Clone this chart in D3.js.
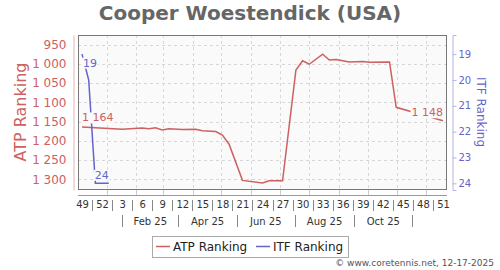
<!DOCTYPE html>
<html><head><meta charset="utf-8">
<script src="https://cdn.jsdelivr.net/npm/d3@7"></script>
<style>
html,body{margin:0;padding:0;background:#fff;}
svg{display:block;font-family:"DejaVu Sans",sans-serif;}
</style></head>
<body><svg id="c" width="500" height="270"></svg>
<script>
// ---- data ----
const weekLabels = ["49","52","3","6","9","12","15","18","21","24","27","30","33","36","39","42","45","48","51"];
const weekLabelIdx = [0,3,6,9,12,15,18,21,24,27,30,33,36,39,42,45,48,51,54];
const monthLabels = ["Feb 25","Apr 25","Jun 25","Aug 25","Oct 25"];
const atpWeeks = [0,2,4,6,9,10,11,12,13,15,17,18,20,21,22,24,27,28,30,32,33,34,36,37,38,40,42,43,46,47,54];
const atpValues = [1164,1166,1168,1170,1167,1169,1166,1172,1169,1171,1170,1174,1176,1185,1209,1303,1310,1304,1304,1016,992,1001,975,990,989,995,994,996,995,1113,1148];
const itfWeeks = [0,1,2,3,4];
const itfValues = [19,20,24,24,24];
const atpTicks = [950,1000,1050,1100,1150,1200,1250,1300];
const itfTicks = [19,20,21,22,23,24];

// ---- layout ----
const L=78, R=447, T=35, B=190;
const atpColor="#cd6060", itfColor="#6464cc";
const svg=d3.select("#c");
const day=86400000, d0=new Date(2024,11,6);
const idxOf = d => (d - d0)/(7*day);

const x=d3.scaleLinear().domain([-0.6,54.6]).range([L,R]);
const yL=d3.scaleLinear().domain([925,1328]).range([T,B]);
const yR=d3.scaleLinear().domain([18.26,24.26]).range([T,B]);
const fmt=d3.formatLocale({decimal:".",thousands:" ",grouping:[3],currency:["",""]}).format(",d");

// title
svg.append("text").attr("x",250).attr("y",20).attr("text-anchor","middle")
  .attr("font-size",20).attr("font-weight","bold").attr("fill","#666").text("Cooper Woestendick (USA)");

// plot bg
svg.append("rect").attr("x",L).attr("y",T).attr("width",R-L).attr("height",B-T).attr("fill","#fafafa");

// grid
const monthStarts=d3.range(0,12).map(m=>new Date(2025,m,1));
svg.append("g").selectAll("line").data(atpTicks).join("line")
  .attr("x1",L).attr("x2",R).attr("y1",d=>Math.round(yL(d))+0.5).attr("y2",d=>Math.round(yL(d))+0.5)
  .attr("stroke","#d8d8d8").attr("stroke-dasharray","3,3");
svg.append("g").selectAll("line").data(monthStarts).join("line")
  .attr("x1",d=>Math.round(x(idxOf(d)))+0.5).attr("x2",d=>Math.round(x(idxOf(d)))+0.5).attr("y1",T).attr("y2",B)
  .attr("stroke","#d8d8d8").attr("stroke-dasharray","3,3");
svg.append("g").selectAll("line").data(monthStarts).join("line")
  .attr("x1",d=>Math.round(x(idxOf(d)))+0.5).attr("x2",d=>Math.round(x(idxOf(d)))+0.5).attr("y1",B).attr("y2",195.5)
  .attr("stroke","#ccc");

// frame
svg.append("rect").attr("x",L+0.5).attr("y",T+0.5).attr("width",R-L-1).attr("height",B-T-1)
  .attr("fill","none").attr("stroke","#777");

// left axis
const gl=svg.append("g").attr("transform","translate(73.5,0)")
  .call(d3.axisLeft(yL).tickValues(atpTicks).tickSize(0).tickPadding(7).tickFormat(fmt));
gl.select(".domain").attr("stroke","#e2b4b4");
gl.selectAll("text").attr("fill",atpColor).attr("font-size",12).attr("font-family","DejaVu Sans");
svg.append("text").attr("transform","translate(26,112) rotate(-90)").attr("text-anchor","middle")
  .attr("font-size",16).attr("fill",atpColor).text("ATP Ranking");

// right axis
const gr=svg.append("g").attr("transform","translate(452.5,0)")
  .call(d3.axisRight(yR).tickValues(itfTicks).tickSize(4).tickPadding(2).tickFormat(d3.format("d")));
gr.select(".domain").attr("stroke","#b4b4e6");
gr.selectAll("line").attr("stroke","#b4b4e6");
gr.selectAll("text").attr("fill",itfColor).attr("font-size",10).attr("font-family","DejaVu Sans");
svg.append("text").attr("transform","translate(477,112) rotate(90)").attr("text-anchor","middle")
  .attr("font-size",12).attr("fill",itfColor).text("ITF Ranking");

// bottom axis
const gb=svg.append("g").attr("transform","translate(0,195.5)")
  .call(d3.axisBottom(x).tickValues(weekLabelIdx).tickSize(0).tickPadding(5)
    .tickFormat((d,i)=>weekLabels[i]));
gb.select(".domain").attr("stroke","#999").attr("d",`M${L},0H${R}`);
gb.selectAll("text").attr("fill","#333").attr("font-size",10).attr("font-family","DejaVu Sans");
const sepIdx=weekLabelIdx.slice(0,-1).map(d=>d+1.5);
svg.append("g").selectAll("line").data(sepIdx).join("line")
  .attr("x1",d=>Math.round(x(d))+0.5).attr("x2",d=>Math.round(x(d))+0.5).attr("y1",200).attr("y2",211)
  .attr("stroke","#888");
const monthSeps=[0,2,4,6,8,10].map(m=>new Date(2025,m,17));
svg.append("g").selectAll("line").data(monthSeps).join("line")
  .attr("x1",d=>Math.round(x(idxOf(d)))+0.5).attr("x2",d=>Math.round(x(idxOf(d)))+0.5).attr("y1",215).attr("y2",227)
  .attr("stroke","#888");
svg.append("g").selectAll("text").data(monthLabels).join("text")
  .attr("x",(d,i)=>(x(idxOf(monthSeps[i]))+x(idxOf(monthSeps[i+1])))/2).attr("y",224.5)
  .attr("text-anchor","middle").attr("font-size",10).attr("fill","#333").text(d=>d);

// lines
const atp=atpWeeks.map((w,i)=>[w,atpValues[i]]);
const itf=itfWeeks.map((w,i)=>[w,itfValues[i]]);
svg.append("path").datum(atp).attr("fill","none").attr("stroke",atpColor).attr("stroke-width",1.5)
  .attr("d",d3.line().x(d=>x(d[0])).y(d=>yL(d[1])));
svg.append("path").datum(itf).attr("fill","none").attr("stroke",itfColor).attr("stroke-width",1.5)
  .attr("d",d3.line().x(d=>x(d[0])).y(d=>yR(d[1])));

// value labels
function vlabel(px,py,txt,anchor,color){
  const g=svg.append("g");
  const t=g.append("text").attr("x",px).attr("y",py).attr("text-anchor",anchor)
    .attr("dominant-baseline","central").attr("font-size",11).attr("fill",color).text(txt);
  const bb=t.node().getBBox();
  g.insert("rect","text").attr("x",bb.x-1).attr("y",bb.y+1).attr("width",bb.width+2).attr("height",bb.height-2).attr("fill","#fafafa");
}
const a0=atp[0], aN=atp[atp.length-1], i0=itf[0], iN=itf[itf.length-1];
vlabel(x(a0[0]),yL(a0[1])-9,fmt(a0[1]),"start",atpColor);
vlabel(x(aN[0]),yL(aN[1])-8,fmt(aN[1]),"end",atpColor);
vlabel(x(i0[0])+1,yR(i0[1])+9,fmt(i0[1]),"start",itfColor);
vlabel(x(iN[0]),yR(iN[1])-8,fmt(iN[1]),"end",itfColor);

// legend
const lg=svg.append("g");
lg.append("rect").attr("x",152.5).attr("y",236.5).attr("width",196).attr("height",21).attr("fill","#fff").attr("stroke","#aaa");
[["ATP Ranking",atpColor,156],["ITF Ranking",itfColor,256]].forEach(([t,c,x0])=>{
  lg.append("line").attr("x1",x0).attr("x2",x0+14).attr("y1",246.5).attr("y2",246.5).attr("stroke",c).attr("stroke-width",1.5);
  lg.append("text").attr("x",x0+17).attr("y",251).attr("font-size",12).attr("fill","#222").text(t);
});

// credit
svg.append("text").attr("x",494).attr("y",266).attr("text-anchor","end").attr("font-size",9)
  .attr("fill","#555").text("© www.coretennis.net, 12-17-2025");
</script></body></html>
